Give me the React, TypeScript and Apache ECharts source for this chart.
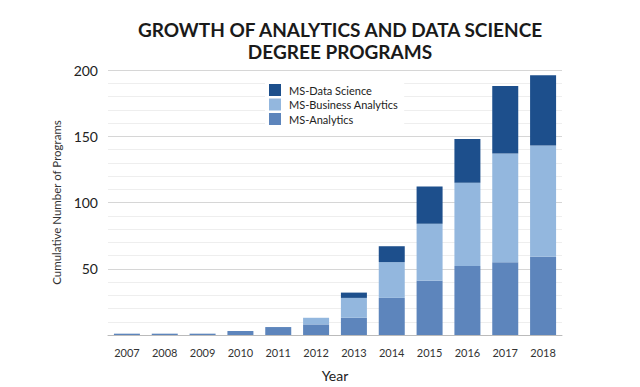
import React, { useEffect, useRef } from "react";
import * as echarts from "echarts";

const years = ["2007", "2008", "2009", "2010", "2011", "2012", "2013", "2014", "2015", "2016", "2017", "2018"];
const msAnalytics = [1, 1, 1, 3, 6, 8, 13, 28, 41, 52, 55, 59];
const msBusinessAnalytics = [0, 0, 0, 0, 0, 5, 15, 27, 43, 63, 82, 84];
const msDataScience = [0, 0, 0, 0, 0, 0, 4, 12, 28, 33, 51, 53];
const yTicks = [50, 100, 150, 200];

const FONT = "Lato, 'DejaVu Sans', sans-serif";

export default function App() {
  const ref = useRef<HTMLDivElement>(null);
  useEffect(() => {
    if (!ref.current) return;
    const chart = echarts.init(ref.current, null, { renderer: "svg" });
    chart.setOption({
      animation: false,
      backgroundColor: "#ffffff",
      textStyle: { fontFamily: FONT },
      title: {
        text: "GROWTH OF ANALYTICS AND DATA SCIENCE\nDEGREE PROGRAMS",
        left: 335,
        top: 13,
        textAlign: "center",
        textStyle: { fontFamily: FONT, fontWeight: "bold", fontSize: 19, lineHeight: 22, color: "#1a1a1a" },
      },
      legend: {
        data: ["MS-Data Science", "MS-Business Analytics", "MS-Analytics"],
        orient: "vertical",
        left: 265,
        top: 82,
        icon: "rect",
        itemWidth: 12,
        itemHeight: 12,
        itemGap: 2.5,
        padding: [2, 6, 2, 4],
        backgroundColor: "#ffffff",
        textStyle: { fontFamily: FONT, fontSize: 11, color: "#222", padding: [0, 0, 0, 3] },
      },
      grid: { left: 108, right: 78, top: 70, bottom: 45 },
      xAxis: {
        type: "category",
        data: years,
        name: "Year",
        nameLocation: "middle",
        nameGap: 33,
        nameTextStyle: { fontFamily: FONT, fontSize: 14, color: "#222" },
        axisLine: { show: true, lineStyle: { color: "#bbbbbb" } },
        axisTick: { show: false },
        axisLabel: { fontFamily: FONT, fontSize: 11, color: "#333", margin: 12 },
      },
      yAxis: {
        type: "value",
        min: 0,
        max: 200,
        interval: 50,
        name: "Cumulative Number of Programs",
        nameLocation: "middle",
        nameGap: 46,
        nameTextStyle: { fontFamily: FONT, fontSize: 11.5, color: "#333" },
        axisLine: { show: false },
        axisTick: { show: false },
        axisLabel: {
          fontFamily: FONT,
          fontSize: 14,
          color: "#222",
          margin: 10,
          formatter: (v: number) => (yTicks.includes(v) ? String(v) : ""),
        },
        splitLine: { show: true, lineStyle: { color: "#d6d6d6", width: 1 } },
        minorTick: { show: false, splitNumber: 5 },
        minorSplitLine: { show: true, lineStyle: { color: "#eeeeee", width: 1 } },
      },
      series: [
        {
          name: "MS-Analytics",
          type: "bar",
          stack: "total",
          data: msAnalytics,
          barWidth: 26,
          itemStyle: { color: "#5d85bc" },
        },
        {
          name: "MS-Business Analytics",
          type: "bar",
          stack: "total",
          data: msBusinessAnalytics,
          barWidth: 26,
          itemStyle: { color: "#93b7de" },
        },
        {
          name: "MS-Data Science",
          type: "bar",
          stack: "total",
          data: msDataScience,
          barWidth: 26,
          itemStyle: { color: "#1d4f8c" },
        },
      ],
    });
    return () => chart.dispose();
  }, []);
  return <div ref={ref} style={{ position: "fixed", left: 0, top: 0, width: 640, height: 387 }} />;
}
